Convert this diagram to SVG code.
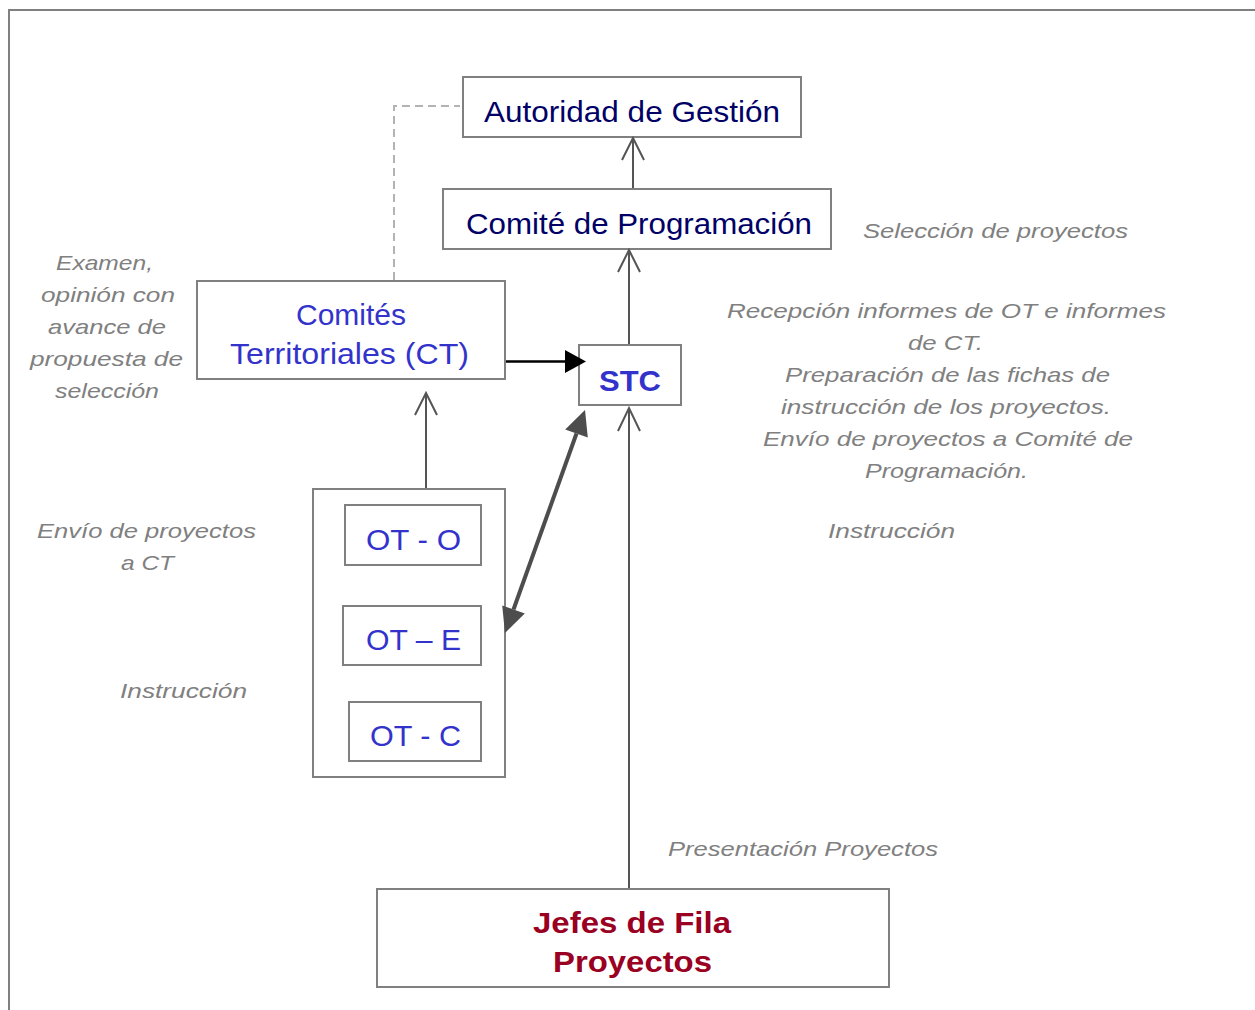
<svg xmlns="http://www.w3.org/2000/svg" width="1255" height="1010" viewBox="0 0 1255 1010">
<style>
.box{fill:#fff;stroke:#808080;stroke-width:2}
.main{font-family:"Liberation Sans",Arial,sans-serif;font-size:30px;fill:#000066}
.blue{font-family:"Liberation Sans",Arial,sans-serif;font-size:30px;fill:#3333cc}
.red{font-family:"Liberation Sans",Arial,sans-serif;font-size:30px;font-weight:bold;fill:#990022}
.note{font-family:"Liberation Sans",Arial,sans-serif;font-size:21px;font-style:italic;fill:#808080}
.ln{fill:none;stroke:#555;stroke-width:2}
</style>
<rect width="1255" height="1010" fill="#fff"/>
<path d="M9,1010 V10 H1255" fill="none" stroke="#808080" stroke-width="2"/>

<g id="autoridad">
  <rect class="box" x="463" y="77" width="338" height="60"/>
  <text class="main" x="484" y="122" textLength="296" lengthAdjust="spacingAndGlyphs">Autoridad de Gestión</text>
</g>
<g id="comite-programacion">
  <rect class="box" x="443" y="189" width="388" height="60"/>
  <text class="main" x="466" y="234" textLength="346" lengthAdjust="spacingAndGlyphs">Comité de Programación</text>
</g>
<g id="comites-territoriales">
  <rect class="box" x="197" y="281" width="308" height="98"/>
  <text class="blue" x="296" y="325" textLength="110" lengthAdjust="spacingAndGlyphs">Comités</text>
  <text class="blue" x="230" y="364" textLength="239" lengthAdjust="spacingAndGlyphs">Territoriales (CT)</text>
</g>
<g id="stc">
  <rect class="box" x="579" y="345" width="102" height="60"/>
  <text class="blue" x="599" y="391" font-weight="bold" textLength="62" lengthAdjust="spacingAndGlyphs">STC</text>
</g>
<g id="ot-group">
  <rect class="box" x="313" y="489" width="192" height="288"/>
</g>
<g id="ot-o">
  <rect class="box" x="345" y="505" width="136" height="60"/>
  <text class="blue" x="366" y="550" textLength="95" lengthAdjust="spacingAndGlyphs">OT - O</text>
</g>
<g id="ot-e">
  <rect class="box" x="343" y="606" width="138" height="59"/>
  <text class="blue" x="366" y="650" textLength="95" lengthAdjust="spacingAndGlyphs">OT – E</text>
</g>
<g id="ot-c">
  <rect class="box" x="349" y="702" width="132" height="59"/>
  <text class="blue" x="370" y="746" textLength="91" lengthAdjust="spacingAndGlyphs">OT - C</text>
</g>
<g id="jefes">
  <rect class="box" x="377" y="889" width="512" height="98"/>
  <text class="red" x="533" y="933" textLength="198" lengthAdjust="spacingAndGlyphs">Jefes de Fila</text>
  <text class="red" x="553" y="972" textLength="159" lengthAdjust="spacingAndGlyphs">Proyectos</text>
</g>

<g id="connectors">
  <path d="M394,280 V106 H460" fill="none" stroke="#b3b3b3" stroke-width="2" stroke-dasharray="8,5"/>
  <path class="ln" d="M633,188 V138 M622,160 L633,138 L644,160"/>
  <path class="ln" d="M629,344 V250 M618,272 L629,250 L640,272"/>
  <path class="ln" d="M426,488 V393 M415,415 L426,393 L437,415"/>
  <path class="ln" d="M629,888 V408 M618,431 L629,408 L640,431"/>
  <line x1="506" y1="361.5" x2="567" y2="361.5" stroke="#000" stroke-width="2.5"/>
  <polygon points="565,350 586,361.5 565,373" fill="#000"/>
  <line x1="576.5" y1="433.5" x2="513.5" y2="609.5" stroke="#4d4d4d" stroke-width="4"/>
  <polygon points="585,410 587.8,437.6 565.2,429.4" fill="#4d4d4d"/>
  <polygon points="505,633 524.8,613.6 502.2,605.4" fill="#4d4d4d"/>
</g>

<g id="labels">
  <text class="note" x="863" y="238" textLength="265" lengthAdjust="spacingAndGlyphs">Selección de proyectos</text>
  <text class="note" x="56" y="270" textLength="97" lengthAdjust="spacingAndGlyphs">Examen,</text>
  <text class="note" x="41" y="302" textLength="134" lengthAdjust="spacingAndGlyphs">opinión con</text>
  <text class="note" x="48" y="334" textLength="118" lengthAdjust="spacingAndGlyphs">avance de</text>
  <text class="note" x="30" y="366" textLength="153" lengthAdjust="spacingAndGlyphs">propuesta de</text>
  <text class="note" x="55" y="398" textLength="104" lengthAdjust="spacingAndGlyphs">selección</text>
  <text class="note" x="727" y="318" textLength="439" lengthAdjust="spacingAndGlyphs">Recepción informes de OT e informes</text>
  <text class="note" x="908" y="350" textLength="75" lengthAdjust="spacingAndGlyphs">de CT.</text>
  <text class="note" x="785" y="382" textLength="325" lengthAdjust="spacingAndGlyphs">Preparación de las fichas de</text>
  <text class="note" x="781" y="414" textLength="330" lengthAdjust="spacingAndGlyphs">instrucción de los proyectos.</text>
  <text class="note" x="763" y="446" textLength="370" lengthAdjust="spacingAndGlyphs">Envío de proyectos a Comité de</text>
  <text class="note" x="865" y="478" textLength="163" lengthAdjust="spacingAndGlyphs">Programación.</text>
  <text class="note" x="828" y="538" textLength="127" lengthAdjust="spacingAndGlyphs">Instrucción</text>
  <text class="note" x="37" y="538" textLength="219" lengthAdjust="spacingAndGlyphs">Envío de proyectos</text>
  <text class="note" x="121" y="570" textLength="53" lengthAdjust="spacingAndGlyphs">a CT</text>
  <text class="note" x="120" y="698" textLength="127" lengthAdjust="spacingAndGlyphs">Instrucción</text>
  <text class="note" x="668" y="856" textLength="270" lengthAdjust="spacingAndGlyphs">Presentación Proyectos</text>
</g>
</svg>
